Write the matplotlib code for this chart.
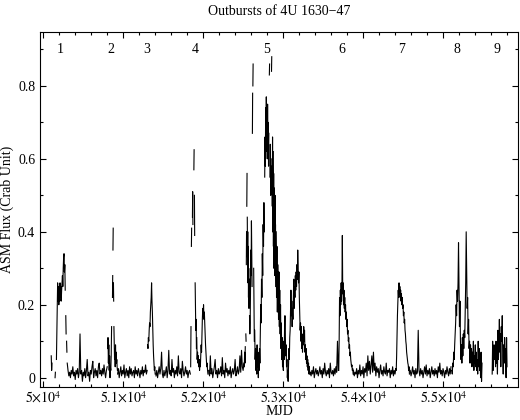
import numpy as np
import matplotlib
matplotlib.use("Agg")
import matplotlib.pyplot as plt
from matplotlib.ticker import MultipleLocator, FixedLocator, FixedFormatter

plt.rcParams['font.family'] = ['Liberation Serif', 'DejaVu Serif']
plt.rcParams['mathtext.fontset'] = 'stix'

# DATA - ASM light curve
# every segment: (first MJD, days between points, flux values); segments are separated by gaps

pre_burst = [
    (50100, 5, [0.06, 0.02, 0.04]),
    (50148, 4, [0.0, 0.015]),
]

burst1 = [
    (50165, 5, [0.05, 0.12, 0.20, 0.26, 0.21, 0.25, 0.20, 0.24, 0.21, 0.26,
                0.22, 0.25, 0.21, 0.24, 0.26, 0.28, 0.25, 0.30, 0.33, 0.34,
                0.29, 0.31, 0.24]),
    (50282, 4, [0.17, 0.12]),
    (50292, 4, [0.10, 0.07]),
]

quiet1 = [
    (50300, 10, [0.04, 0.02, 0.005, 0.015, 0.0, 0.02, 0.01, 0.03, 0.005, 0.015,
                 -0.005, 0.02, 0.01, 0.025, 0.0, 0.015, 0.12, 0.01, 0.02, -0.01,
                 0.015, 0.005, 0.025, 0.0, 0.02, 0.05, 0.005, 0.015, -0.01, 0.02,
                 0.01, 0.03, 0.045, 0.0, 0.015, 0.025, 0.005, 0.02, 0.0, 0.03,
                 0.04, 0.01, 0.02, 0.005, 0.025, 0.01, 0.035, 0.015, 0.0, 0.02,
                 0.03]),
]

burst2 = [
    (50805, 5, [0.08, 0.11, 0.04, 0.09, 0.02, 0.06, 0.0, 0.03, 0.02, 0.06, 0.14]),
    (50866, 3, [0.22, 0.28]),
    (50872, 3, [0.35, 0.41]),
    (50878, 3, [0.26, 0.21]),
    (50884, 4, [0.14, 0.10, 0.05, 0.08, 0.03, 0.09, 0.05, 0.07, 0.04, 0.05, 0.03, 0.02]),
]

quiet2 = [
    (50930, 10, [0.01, 0.025, 0.0, 0.015, 0.03, 0.005, 0.02, 0.01, 0.035, 0.0,
                 0.015, 0.025, 0.005, 0.02, 0.0, 0.03, 0.01, 0.025, 0.005, 0.015,
                 0.02, 0.0, 0.03, 0.01, 0.02, 0.005, 0.025, 0.015, 0.0, 0.02,
                 0.01, 0.03, 0.005, 0.02, 0.015, 0.035, 0.01, 0.02]),
]

burst3 = [
    (51305, 5, [0.09, 0.08, 0.11, 0.10, 0.13, 0.15, 0.14, 0.18, 0.20, 0.22,
                0.26, 0.21, 0.18, 0.13, 0.09, 0.06, 0.04, 0.02, 0.03, 0.01]),
]

quiet3 = [
    (51410, 10, [0.005, 0.02, 0.0, 0.015, 0.03, 0.01, 0.025, 0.07, 0.01, 0.0,
                 0.02, 0.005, 0.015, 0.03, 0.0, 0.02, 0.075, 0.01, 0.02, 0.005,
                 0.05, 0.015, 0.025, 0.0, 0.02, 0.01, 0.03, 0.005, 0.06, 0.015,
                 0.01, 0.025, 0.0, 0.045, 0.02, 0.005, 0.015, 0.03, 0.01, 0.02,
                 0.0, 0.015, 0.02, 0.01]),
]

burst4 = [
    (51844, 4, [0.03, 0.14]),
    (51853, 3, [0.36, 0.41]),
    (51866, 3, [0.44, 0.51, 0.42]),
    (51884, 3, [0.57, 0.625]),
    (51891, 3, [0.50, 0.39]),
    (51900, 4, [0.26, 0.20, 0.13, 0.16, 0.08]),
    (51920, 5, [0.11, 0.05, 0.07, 0.04, 0.06, 0.03, 0.05, 0.02, 0.04, 0.03,
                0.06, 0.09, 0.07, 0.12, 0.16, 0.19, 0.17, 0.20, 0.16, 0.18,
                0.15, 0.12, 0.09, 0.07, 0.05, 0.03, 0.04, 0.02, 0.01]),
]

quiet4 = [
    (52070, 10, [0.02, 0.005, 0.06, 0.01, 0.025, 0.0, 0.015, 0.03, 0.05, 0.01,
                 0.02, 0.0, 0.025, 0.01, 0.015, 0.03, 0.005, 0.055, 0.01, 0.02,
                 0.0, 0.04, 0.015, 0.025, 0.005, 0.02, 0.01, 0.03, 0.0, 0.015,
                 0.025, 0.01, 0.02, 0.05, 0.005, 0.015, 0.03, 0.01, 0.02, 0.06,
                 0.015, 0.075, 0.03, 0.02, 0.04]),
]

burst5 = [
    (52515, 4, [0.03, 0.07, 0.04, 0.085]),
    (52534, 3, [0.12, 0.10]),
    (52540, 3, [0.31, 0.40]),
    (52546, 3, [0.47, 0.56]),
    (52552, 3, [0.44, 0.33, 0.40, 0.26, 0.36, 0.22, 0.30, 0.19, 0.27]),
    (52580, 4, [0.17, 0.12, 0.15, 0.23, 0.35, 0.28, 0.43, 0.33, 0.25]),
    (52616, 3, [0.67, 0.78]),
    (52622, 3, [0.80, 0.86]),
    (52632, 4, [0.30, 0.18, 0.10]),
    (52645, 5, [0.13, 0.05, 0.08, 0.02, 0.06, 0.01, 0.09, 0.03, 0.07, 0.0,
                0.05, 0.02, 0.08, 0.04, 0.13, 0.20, 0.15, 0.27, 0.22, 0.34,
                0.28, 0.42, 0.36, 0.48, 0.40]),
    (52770, 4, [0.55, 0.66, 0.58, 0.74, 0.62, 0.77, 0.68, 0.72, 0.60, 0.75,
                0.63, 0.70, 0.58, 0.67]),
    (52828, 3, [0.83, 0.86]),
    (52835, 5, [0.55, 0.64, 0.50, 0.60]),
    (52855, 3, [0.84, 0.88]),
    (52862, 3, [0.58, 0.47, 0.66, 0.40]),
    (52876, 3, [0.62, 0.36, 0.56, 0.30, 0.52]),
    (52893, 3, [0.45, 0.28, 0.50, 0.33, 0.42, 0.25]),
    (52913, 5, [0.40, 0.22, 0.36, 0.18, 0.31, 0.26, 0.16, 0.29, 0.14, 0.24,
                0.12, 0.20, 0.08, 0.15, 0.05, 0.11, 0.03, 0.09, 0.02, 0.10,
                0.05, 0.13, 0.17, 0.12, 0.06, 0.09, 0.03, 0.05, 0.0, 0.02,
                -0.01, 0.04, 0.08, 0.05, 0.11, 0.13, 0.19, 0.24, 0.17, 0.21,
                0.14, 0.19, 0.16, 0.22, 0.27, 0.19, 0.25, 0.22, 0.28, 0.24,
                0.29, 0.25, 0.31, 0.27, 0.35, 0.30, 0.26, 0.29, 0.22, 0.18,
                0.13, 0.15, 0.10, 0.14, 0.08, 0.10, 0.07, 0.12, 0.09, 0.14,
                0.10, 0.13, 0.07, 0.09, 0.05, 0.08, 0.04, 0.06, 0.03, 0.05,
                0.02, 0.04, 0.01, 0.03, 0.01]),
]

quiet5 = [
    (53340, 10, [0.015, 0.005, 0.02, 0.01, 0.03, 0.0, 0.015, 0.025, 0.01, 0.02,
                 0.005, 0.015, 0.03, 0.01, 0.02, 0.0, 0.025, 0.01, 0.04, 0.015,
                 0.005, 0.02, 0.01, 0.025, 0.0, 0.04, 0.015, 0.01, 0.02, 0.005,
                 0.025, 0.01, 0.03, 0.015, 0.10, 0.02]),
]

burst6 = [
    (53696, 5, [0.02, 0.10, 0.22, 0.17, 0.24, 0.20, 0.26, 0.21, 0.25, 0.39,
                0.23, 0.26, 0.20, 0.24, 0.19, 0.22, 0.18, 0.20, 0.16, 0.18,
                0.14, 0.16, 0.12, 0.13, 0.10, 0.11, 0.08, 0.09, 0.06, 0.07,
                0.05, 0.04, 0.03, 0.035, 0.02, 0.025, 0.01]),
]

quiet6 = [
    (53880, 10, [0.02, 0.005, 0.015, 0.01, 0.025, 0.0, 0.02, 0.01, 0.035, 0.005,
                 0.02, 0.01, 0.03, 0.0, 0.025, 0.015, 0.04, 0.005, 0.06, 0.02,
                 0.045, 0.01, 0.035, 0.06, 0.015, 0.07, 0.02, 0.04, 0.005, 0.03,
                 0.015, 0.025, 0.0, 0.02, 0.035, 0.01, 0.02, 0.005, 0.03, 0.015,
                 0.01, 0.04, 0.005, 0.02, 0.015, 0.025, 0.0, 0.02, 0.01, 0.03,
                 0.005, 0.02, 0.01, 0.025]),
]

burst7 = [
    (54415, 5, [0.02, 0.06, 0.12, 0.17, 0.21, 0.24, 0.22, 0.26, 0.23, 0.25,
                0.22, 0.24, 0.21, 0.23, 0.20, 0.22, 0.19, 0.20, 0.17, 0.18,
                0.15, 0.16, 0.13, 0.12, 0.10, 0.09, 0.07, 0.06, 0.05, 0.04,
                0.035, 0.02, 0.03, 0.01]),
]

quiet7 = [
    (54590, 10, [0.02, 0.005, 0.015, 0.03, 0.01, 0.02, 0.0, 0.025, 0.01, 0.015,
                 0.13, 0.02, 0.005, 0.025, 0.01, 0.02, 0.0, 0.015, 0.03, 0.01,
                 0.035, 0.005, 0.02, 0.01, 0.025, 0.0, 0.015, 0.03, 0.01, 0.02,
                 0.005, 0.025, 0.01, 0.02, 0.0, 0.03, 0.015, 0.04, 0.01, 0.02,
                 0.005, 0.025, 0.015, 0.0, 0.02, 0.01, 0.03, 0.015, 0.005, 0.025,
                 0.01, 0.03]),
]

burst8 = [
    (55110, 6, [0.02, 0.01, 0.04, 0.03, 0.07, 0.05, 0.09, 0.12, 0.15, 0.20,
                0.17, 0.24, 0.21, 0.26, 0.37, 0.25, 0.14, 0.21, 0.10, 0.05,
                0.09, 0.04, 0.11, 0.06, 0.12, 0.08, 0.13, 0.11, 0.18, 0.26,
                0.40, 0.30, 0.19, 0.22, 0.12, 0.16, 0.08, 0.10, 0.04, 0.09,
                0.05, 0.08, 0.03, 0.07, 0.05, 0.10, 0.02, 0.06, 0.04, 0.09,
                0.03, 0.07, 0.02, 0.05, 0.01, 0.10, 0.03, 0.08, 0.02, 0.06,
                0.0, 0.07, -0.01, 0.04]),
]

burst9 = [
    (55615, 6, [0.01, 0.10, 0.02, 0.06, 0.09, 0.05, 0.08, 0.03, 0.10, 0.04,
                0.07, 0.01, 0.13, 0.05, 0.09, 0.16, 0.07, 0.12, 0.03, 0.14,
                0.10, 0.17, 0.06, 0.01, 0.09, 0.04, 0.11, 0.05, 0.08, 0.0,
                0.11, 0.03]),
]

burst_names = ['1', '2', '3', '4', '5', '6', '7', '8', '9']
burst_mjd = [50212, 50850, 51296, 51900, 52796, 53733, 54483, 55171, 55679]

all_segments = (pre_burst + burst1 + quiet1 + burst2 + quiet2 + burst3 + quiet3 +
                burst4 + quiet4 + burst5 + quiet5 + burst6 + quiet6 + burst7 +
                quiet7 + burst8 + burst9)


# join the segments into one curve, with a nan between them for the gaps
def build_curve(segments):
    mjd, flux = [], []
    for start, step, values in segments:
        mjd += [start + step * i for i in range(len(values))]
        flux += values
        mjd.append(np.nan)
        flux.append(np.nan)
    return np.array(mjd), np.array(flux)


mjd, flux = build_curve(all_segments)

fig = plt.figure(figsize=(5.2, 4.2), dpi=100)
ax = fig.add_axes([0.077, 0.079, 0.919, 0.845])

ax.plot(mjd, flux, color='black', lw=0.8)

for name, x in zip(burst_names, burst_mjd):
    ax.text(x, 0.899, name, ha='center', va='center', fontsize=10)

ax.set_xlim(49960, 55937)
ax.set_ylim(-0.025, 0.948)

xticks = [50000, 51000, 52000, 53000, 54000, 55000]
xlabels = [r'$5{\times}10^4$', r'$5.1{\times}10^4$', r'$5.2{\times}10^4$',
           r'$5.3{\times}10^4$', r'$5.4{\times}10^4$', r'$5.5{\times}10^4$']
ax.xaxis.set_major_locator(FixedLocator(xticks))
ax.xaxis.set_major_formatter(FixedFormatter(xlabels))
ax.xaxis.set_minor_locator(MultipleLocator(200))

yticks = [0, 0.2, 0.4, 0.6, 0.8]
ylabels = ['0', '0.2', '0.4', '0.6', '0.8']
ax.yaxis.set_major_locator(FixedLocator(yticks))
ax.yaxis.set_major_formatter(FixedFormatter(ylabels))
ax.yaxis.set_minor_locator(MultipleLocator(0.1))

ax.tick_params(which='both', direction='in', top=True, right=True, labelsize=10, width=0.8)
ax.tick_params(which='major', length=4)
ax.tick_params(which='minor', length=2)
ax.tick_params(axis='x', which='major', pad=2)
for sp in ax.spines.values():
    sp.set_linewidth(0.8)

ax.set_xlabel('MJD', fontsize=10, labelpad=0)
ax.set_ylabel('ASM Flux (Crab Unit)', fontsize=10, labelpad=3)
ax.set_title('Outbursts of 4U 1630\u221247', fontsize=10, pad=12)

fig.savefig('out.png', dpi=100)
